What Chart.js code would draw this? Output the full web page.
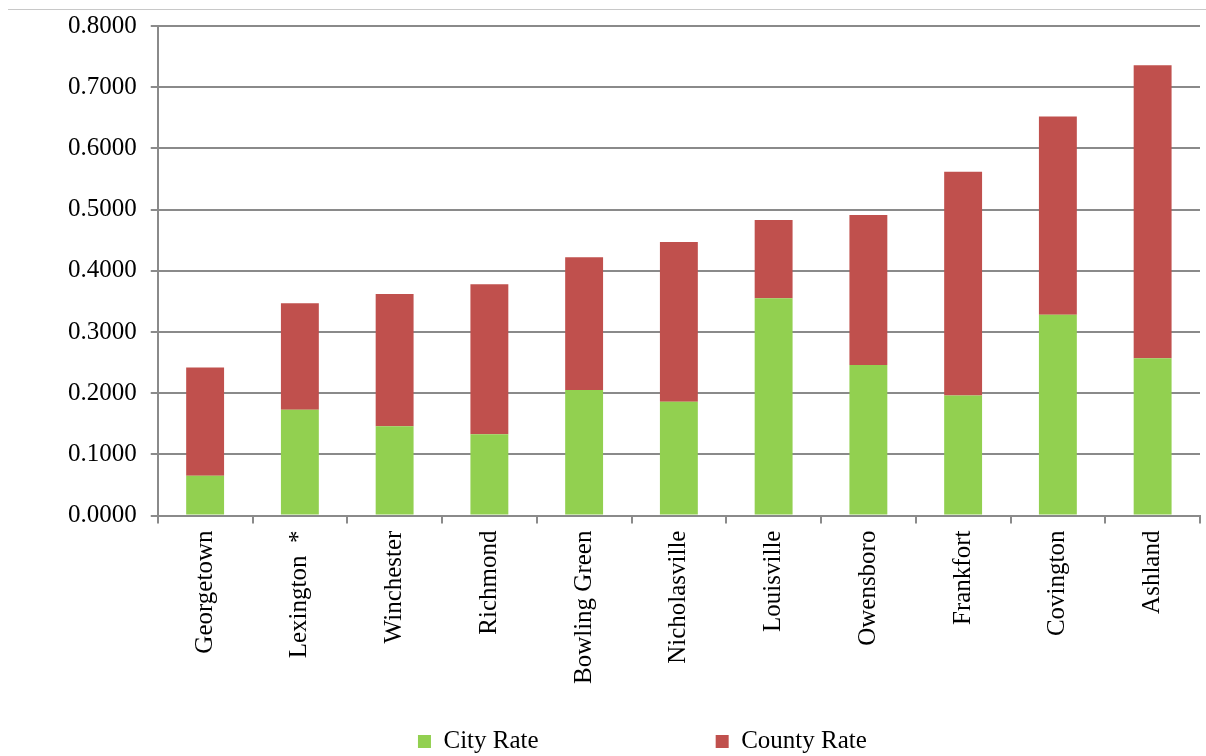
<!DOCTYPE html>
<html>
<head>
<meta charset="utf-8">
<script src="https://cdn.jsdelivr.net/npm/chart.js@4.4.1/dist/chart.umd.min.js"></script>
<style>
  html, body { margin: 0; padding: 0; background: #fff; overflow: hidden; }
  #wrap { position: relative; width: 1206px; height: 756px; overflow: hidden; }
  #topline { position: absolute; left: 8px; right: 0; top: 9px; height: 1px; background: #c8c8c8; }
  #chart { position: absolute; left: 0; top: -3px; }
</style>
</head>
<body>
<div id="wrap">
  <div id="topline"></div>
  <canvas id="chart" width="1206" height="759"></canvas>
</div>
<script>
var cities = ['Georgetown', 'Lexington  *', 'Winchester', 'Richmond', 'Bowling Green', 'Nicholasville',
    'Louisville', 'Owensboro', 'Frankfort', 'Covington', 'Ashland'];
var cityRate = [0.065, 0.173, 0.146, 0.133, 0.205, 0.186, 0.355, 0.246, 0.196, 0.328, 0.257];
var countyRate = [0.177, 0.174, 0.216, 0.245, 0.217, 0.261, 0.128, 0.245, 0.366, 0.324, 0.479];

var gridGray = '#8a8a8a';
var serif = "'Liberation Serif', 'Times New Roman', serif";
// trailing spaces spread the two legend entries and pull them left of centre
var legendGap = ' '.repeat(28) + '\u200a';
var legendTail = ' '.repeat(11) + '\u200a\u200a';

var ctx = document.getElementById('chart').getContext('2d');
var chart = new Chart(ctx, {
    type: 'bar',
    data: {
        labels: cities,
        datasets: [
            { label: 'City Rate', data: cityRate, backgroundColor: '#92d050', borderWidth: 0 },
            { label: 'County Rate', data: countyRate, backgroundColor: '#c0504d', borderWidth: 0 }
        ]
    },
    options: {
        responsive: false,
        animation: false,
        layout: { padding: { left: 54, right: 6, top: 13, bottom: -8 } },
        datasets: { bar: { categoryPercentage: 1, barPercentage: 0.4 } },
        plugins: {
            tooltip: { enabled: false },
            legend: {
                position: 'bottom',
                fullSize: false,
                labels: {
                    color: '#000',
                    font: { family: serif, size: 25 },
                    boxWidth: 13,
                    boxHeight: 13,
                    padding: 0,
                    generateLabels: function (c) {
                        var items = Chart.defaults.plugins.legend.labels.generateLabels(c);
                        items[0].text = items[0].text + legendGap;
                        items[1].text = items[1].text + legendTail;
                        return items;
                    }
                }
            }
        },
        scales: {
            x: {
                stacked: true,
                offset: true,
                afterFit: function (scale) { scale.height += 38; },
                grid: {
                    offset: true,
                    drawOnChartArea: false,
                    drawTicks: true,
                    tickLength: 8,
                    color: gridGray,
                    lineWidth: 2
                },
                border: { color: gridGray, width: 2 },
                ticks: {
                    color: '#000',
                    font: { family: serif, size: 25 },
                    minRotation: 90,
                    maxRotation: 90,
                    autoSkip: false,
                    padding: 7
                }
            },
            y: {
                stacked: true,
                min: 0,
                max: 0.8,
                grid: {
                    color: gridGray,
                    lineWidth: 2,
                    drawTicks: true,
                    tickLength: 7
                },
                border: { color: gridGray, width: 2 },
                ticks: {
                    stepSize: 0.1,
                    color: '#000',
                    font: { family: serif, size: 25 },
                    padding: 14,
                    callback: function (v) { return v.toFixed(4); }
                }
            }
        }
    }
});
</script>
</body>
</html>
